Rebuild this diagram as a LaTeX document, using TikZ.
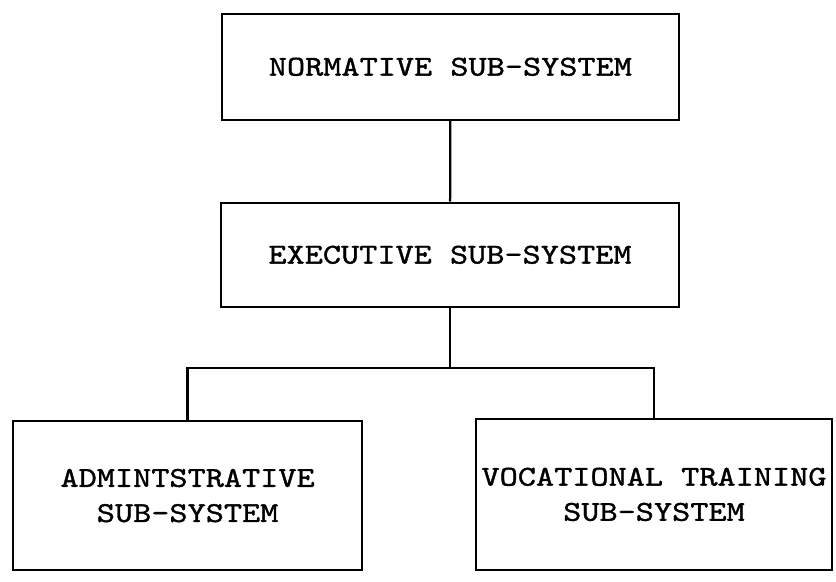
\documentclass[tikz,border=0pt]{standalone}
\usepackage{fontspec}
\setmonofont{lmmono10-regular.otf}[FakeStretch=1.2,FakeBold=1.2]
\usetikzlibrary{positioning}

\begin{document}
\begin{tikzpicture}[line width=1.6pt,
  boite/.style={draw,rectangle,inner sep=0pt,align=center,font=\ttfamily\fontsize{20.5}{25}\selectfont}]
\useasboundingbox (0,0) rectangle (20.9,14.55);

% niveaux du haut
\node[boite,minimum width=11.43cm,minimum height=2.65cm] (norm) at (11.26,12.88) {NORMATIVE SUB-SYSTEM};
\node[boite,minimum width=11.45cm,minimum height=2.6cm] (exec) at (11.25,8.18) {EXECUTIVE SUB-SYSTEM};

% niveau du bas
\node[boite,minimum width=8.72cm,minimum height=3.72cm] (admin) at (4.69,2.16) {ADMINTSTRATIVE\\SUB-SYSTEM};
\node[boite,minimum width=8.9cm,minimum height=3.78cm] (voc) at (16.35,2.19) {VOCATIONAL TRAINING\\SUB-SYSTEM};

% liaisons
\coordinate (branche) at (11.25,5.35);
\draw (norm) -- (exec);
\draw (exec) -- (branche);
\draw (admin.north) |- (branche) -| (voc.north);

\end{tikzpicture}
\end{document}
